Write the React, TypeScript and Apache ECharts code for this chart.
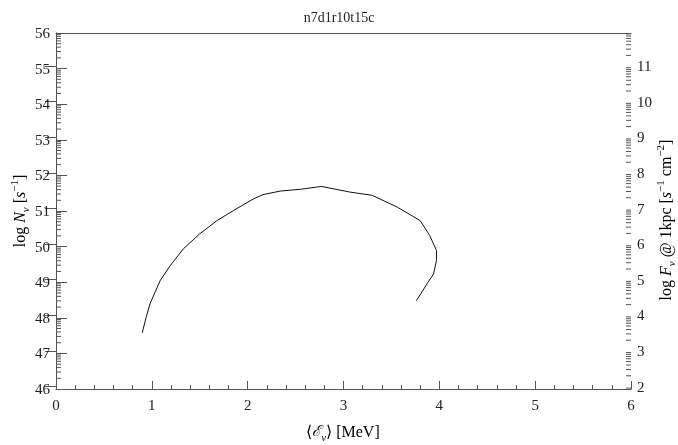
import React, { useEffect, useRef } from "react";
import * as echarts from "echarts";

const titleText = "n7d1r10t15c";
const energyMeV = [0.90, 0.94, 0.98, 1.086, 1.19, 1.33, 1.50, 1.68, 1.85, 2.06, 2.16, 2.34, 2.55, 2.77, 3.07, 3.30, 3.56, 3.80, 3.90, 3.97, 3.97, 3.94, 3.88, 3.76];
const logN = [47.58, 48.01, 48.39, 49.04, 49.46, 49.94, 50.36, 50.73, 51.01, 51.34, 51.46, 51.56, 51.61, 51.69, 51.53, 51.44, 51.11, 50.73, 50.31, 49.89, 49.61, 49.23, 48.99, 48.48];
const rightMin = 1.93;
const rightMax = 11.93;
const minorFrac = [2, 3, 4, 5, 6, 7, 8, 9].map((m) => Math.log10(m));

const FONT = "Liberation Serif";
const AX = "#555";
const TXT = "#222";

function minorTicks(lo: number, hi: number) {
  const out: number[] = [];
  for (let k = Math.floor(lo) - 1; k <= Math.ceil(hi); k++) {
    for (const f of minorFrac) {
      const v = k + f;
      if (v > lo && v < hi) out.push(v);
    }
  }
  return out;
}

const rich = {
  n: { fontFamily: FONT, fontSize: 16, color: TXT, lineHeight: 22, verticalAlign: "middle" },
  i: { fontFamily: FONT, fontSize: 16, color: TXT, fontStyle: "italic", lineHeight: 22, verticalAlign: "middle" },
  sub: { fontFamily: FONT, fontSize: 11, color: TXT, fontStyle: "italic", lineHeight: 13, verticalAlign: "bottom" },
  sup: { fontFamily: FONT, fontSize: 11, color: TXT, lineHeight: 13, verticalAlign: "top" },
  e: { fontFamily: "DejaVu Serif", fontSize: 15, color: TXT, fontStyle: "italic", lineHeight: 22, verticalAlign: "middle" },
};

const textGraphics = [
  {
    type: "text",
    x: 19,
    y: 211,
    rotation: Math.PI / 2,
    style: {
      text: "{n|log }{i|N}{sub|ν}{n| [}{i|s}{sup|−1}{n|]}",
      rich,
      align: "center",
      verticalAlign: "middle",
    },
  },
  {
    type: "text",
    x: 665,
    y: 220,
    rotation: Math.PI / 2,
    style: {
      text: "{n|log }{i|F}{sub|ν}{n| @ 1kpc [}{i|s}{sup|−1}{n| cm}{sup|−2}{n|]}",
      rich,
      align: "center",
      verticalAlign: "middle",
    },
  },
  {
    type: "text",
    x: 343,
    y: 431,
    style: {
      text: "{n|⟨}{e|ℰ}{sub|ν}{n|⟩ [MeV]}",
      rich,
      align: "center",
      verticalAlign: "middle",
    },
  },
];

export default function App() {
  const ref = useRef<HTMLDivElement>(null);
  useEffect(() => {
    if (!ref.current) return;
    const chart = echarts.init(ref.current, null, { renderer: "svg" });
    const data = energyMeV.map((x, i) => [x, logN[i]]);
    const labelStyle = { fontFamily: FONT, fontSize: 15, color: TXT };
    chart.setOption({
      animation: false,
      title: {
        text: titleText,
        left: "center",
        top: 5,
        textStyle: { fontFamily: FONT, fontSize: 14, fontWeight: "normal", color: TXT },
      },
      grid: { left: 56, right: 47, top: 33, bottom: 56 },
      xAxis: [
        {
          type: "value",
          min: 0,
          max: 6,
          interval: 1,
          position: "bottom",
          axisLine: { show: true, lineStyle: { color: AX, width: 1 } },
          axisTick: { show: true, inside: true, length: 8, lineStyle: { color: AX } },
          minorTick: { show: true, splitNumber: 5, length: 4, lineStyle: { color: AX } },
          splitLine: { show: false },
          minorSplitLine: { show: false },
          axisLabel: { ...labelStyle, margin: 8 },
        },
        {
          type: "value",
          min: 0,
          max: 6,
          interval: 1,
          position: "top",
          axisLine: { show: true, lineStyle: { color: AX, width: 1 } },
          axisTick: { show: false },
          axisLabel: { show: false },
          splitLine: { show: false },
        },
      ],
      yAxis: [
        {
          type: "value",
          min: 46,
          max: 56,
          interval: 1,
          position: "left",
          axisLine: { show: true, lineStyle: { color: AX } },
          axisTick: { show: true, inside: true, length: 11, lineStyle: { color: AX, width: 1 } },
          axisLabel: { ...labelStyle, margin: 6 },
          splitLine: { show: false },
        },
        {
          type: "value",
          min: rightMin,
          max: rightMax,
          splitNumber: 10,
          position: "right",
          axisLine: { show: true, lineStyle: { color: AX } },
          axisTick: { show: true, inside: true, length: 11, lineStyle: { color: AX, width: 1 } },
          axisLabel: { ...labelStyle, margin: 6, showMinLabel: false, showMaxLabel: false },
          splitLine: { show: false },
        },
      ],
      series: [
        {
          type: "line",
          xAxisIndex: 0,
          yAxisIndex: 0,
          data,
          showSymbol: false,
          smooth: false,
          lineStyle: { color: "#111", width: 1 },
        },
      ],
    });

    const xl = Number(chart.convertToPixel({ xAxisIndex: 0 }, 0));
    const xr = Number(chart.convertToPixel({ xAxisIndex: 0 }, 6));
    const tickLines: any[] = [];
    const addTicks = (axisIdx: number, values: number[], side: "left" | "right", len: number) => {
      for (const v of values) {
        const py = Number(chart.convertToPixel({ yAxisIndex: axisIdx }, v));
        const x1 = side === "left" ? xl : xr;
        const x2 = side === "left" ? xl + len : xr - len;
        tickLines.push({
          type: "line",
          shape: { x1, y1: py, x2, y2: py },
          style: { stroke: AX, lineWidth: 1 },
        });
      }
    };
    addTicks(0, minorTicks(46, 56), "left", 5);
    addTicks(1, minorTicks(rightMin, rightMax), "right", 5);

    chart.setOption({ graphic: [...tickLines, ...textGraphics] });
    return () => chart.dispose();
  }, []);
  return <div ref={ref} style={{ width: 678, height: 445, position: "fixed", left: 0, top: 0 }} />;
}
